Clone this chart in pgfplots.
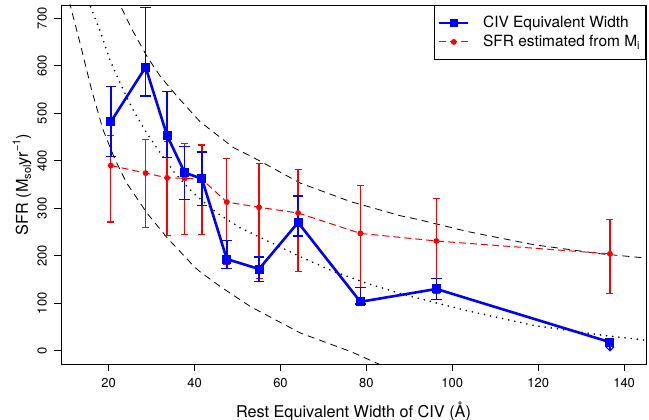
\documentclass[border=0pt]{standalone}
\usepackage{fontspec}
\setmainfont{TeX Gyre Heros}
\usepackage{pgfplots}
\pgfplotsset{compat=1.18}
\usetikzlibrary{arrows.meta}
\definecolor{rblue}{RGB}{0,0,255}
\definecolor{rred}{RGB}{255,0,0}
\begin{document}
\begin{tikzpicture}
\begin{axis}[
  scale only axis, width=585bp, height=359bp,
  xmin=8.9, xmax=145.1, ymin=-28, ymax=728,
  xtick={20,40,...,140}, ytick={0,100,...,700},
  tick align=outside, xtick pos=bottom, ytick pos=left,
  major tick length=7bp,
  every tick/.style={black, line width=0.6bp},
  axis line style={line width=0.8bp, black},
  /pgf/number format/assume math mode=true,
  ticklabel style={font=\fontsize{13}{15}\selectfont, inner sep=0pt},
  xticklabel shift=7bp, yticklabel shift=7bp,
  xticklabel style={anchor=north},
  yticklabel style={rotate=90, anchor=south},
  xlabel={Rest Equivalent Width of CIV (Å)},
  ylabel={SFR (M\raisebox{-0.35ex}{\fontsize{11}{12}\selectfont sol}yr\raisebox{0.9ex}{\fontsize{11}{12}\selectfont −1})},
  label style={font=\fontsize{16.3}{19}\selectfont},
  xlabel style={at={(axis description cs:0.5,0)}, anchor=center, yshift=-47bp},
  ylabel style={at={(axis description cs:0,0.5)}, anchor=center, yshift=39bp},
  legend style={at={(1,1)}, anchor=north east, draw=black, line width=0.8bp,
    font=\fontsize{15.5}{18}\selectfont, inner xsep=4bp, inner ysep=9bp, row sep=2bp,
    cells={anchor=west}, /tikz/every odd column/.append style={column sep=12bp}},
  legend image code/.code={\draw[mark repeat=2, mark phase=2, #1] plot coordinates {(0bp,0bp) (14.5bp,0bp) (29bp,0bp)};},
]
% lower dashed curve
\addplot[black, line width=0.8bp, dash pattern=on 7bp off 5bp, forget plot] coordinates {
(10.4,760) (11.0,729) (13.3,649) (16.0,550) (18.7,465) (21.5,402) (24.2,353) (28.9,290)
(33.6,238) (39.8,178) (41.3,166) (46.0,135) (53.0,93) (64.7,37) (76.4,-2) (82.6,-27) (84,-32)};
% upper dashed curve
\addplot[black, line width=0.8bp, dash pattern=on 7bp off 5bp, forget plot] coordinates {
(22.0,745) (22.6,729) (25.4,677) (28.9,620) (32.0,578) (35.9,536) (41.3,482) (49.0,428)
(53.0,410) (55.3,399) (64.6,353) (76.3,314) (88.0,284) (92.2,276) (103.5,251) (119.1,223)
(134.6,204) (145.3,195)};
% dotted curve
\addplot[black, line width=1.8bp, line cap=round, dash pattern=on 0bp off 6.2bp, forget plot] coordinates {
(15.8,724) (18.0,673) (20.3,612) (23.0,557) (25.4,512) (28.8,459) (31.9,418) (35.4,374)
(39.7,332) (45.2,290) (50.6,259) (56.8,232) (64.6,198) (72.3,167) (80.1,142) (88.0,120)
(91.8,111) (103.5,84) (119.1,53) (134.6,33) (145.1,22)};
% red error bars + line
\addplot[rred, line width=1bp, dash pattern=on 7bp off 4bp, mark=*, mark size=2.4bp,
  mark options={solid}, forget plot,
  error bars/.cd, y dir=both, y explicit,
  error bar style={solid, line width=1.3bp, draw=rred},
  error mark options={rotate=90, mark size=3.5bp, line width=1.2bp, draw=rred, solid}]
coordinates {
(20.5,390) += (0,64) -= (0,119)
(28.6,374) += (0,70) -= (0,115)
(33.6,364) += (0,76) -= (0,122)
(37.7,363) += (0,73) -= (0,119)
(41.7,361) += (0,72) -= (0,117)
(47.5,313) += (0,92) -= (0,132)
(55.0,302) += (0,93) -= (0,150)
(64.1,290) += (0,91) -= (0,123)
(78.6,247) += (0,101) -= (0,137)
(96.3,231) += (0,90) -= (0,111)
(136.7,204) += (0,72) -= (0,84)
};
% blue error bars
\addplot[rblue, only marks, mark=none, forget plot,
  error bars/.cd, y dir=both, y explicit,
  error bar style={line width=1.5bp, draw=rblue},
  error mark options={rotate=90, mark size=5.3bp, line width=1.6bp, draw=rblue, color=rblue}]
coordinates {
(20.5,482) += (0,74) -= (0,73)
(28.6,597) += (0,126) -= (0,61)
(33.6,453) += (0,93) -= (0,46)
(37.7,375) += (0,55) -= (0,57)
(41.7,362) += (0,57) -= (0,56)
(47.5,193) += (0,39) -= (0,20)
(55.0,172) += (0,25) -= (0,26)
(64.1,270) += (0,56) -= (0,28)
(78.6,103) += (0,30) -= (0,5)
(96.3,130) += (0,22) -= (0,22)
};
% upper-limit arrow
\addplot[rblue, line width=1.2bp, -{Straight Barb[length=4bp, width=8bp]}, forget plot,
  quiver={u=\thisrow{u}, v=\thisrow{v}}]
table[row sep=\\] {x y u v \\ 136.7 18 0 -20 \\};
% blue line
\addplot[rblue, line width=2.6bp, mark=square*, mark size=3.2bp, forget plot] coordinates {
(20.5,482) (28.6,597) (33.6,453) (37.7,375) (41.7,362) (47.5,193) (55.0,172)
(64.1,270) (78.6,103) (96.3,130) (136.7,18)};
\addlegendimage{rblue, line width=1.6bp, mark=square*, mark size=3.2bp}
\addlegendentry{CIV Equivalent Width\hspace{12bp}}
\addlegendimage{rred, line width=1bp, dash pattern=on 7bp off 4bp, mark=*, mark size=2.4bp, mark options={solid}}
\addlegendentry{SFR estimated from M\raisebox{-0.35ex}{\fontsize{11}{12}\selectfont i}}
\end{axis}
\pgfresetboundingbox
\useasboundingbox ([xshift=-61bp,yshift=-56bp]current axis.south west) rectangle ([xshift=3bp,yshift=5bp]current axis.north east);
\end{tikzpicture}
\end{document}
